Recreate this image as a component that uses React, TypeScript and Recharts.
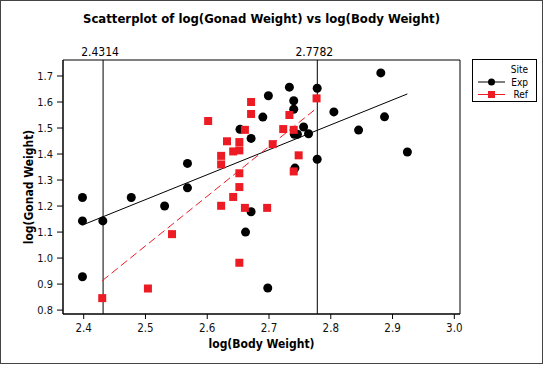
import React from "react";
import { ScatterChart, Scatter, XAxis, YAxis, ReferenceLine, ReferenceArea } from "recharts";

// log(Body Weight) / log(Gonad Weight), site "Exp"
const expBody = [
  2.398, 2.398, 2.398, 2.431, 2.477, 2.531, 2.568, 2.568, 2.653, 2.662,
  2.671, 2.671, 2.69, 2.698, 2.699, 2.733, 2.74, 2.74, 2.741, 2.742,
  2.746, 2.756, 2.764, 2.778, 2.778, 2.805, 2.845, 2.881, 2.887, 2.924,
];
const expGonad = [
  1.233, 1.143, 0.928, 1.143, 1.233, 1.2, 1.364, 1.27, 1.495, 1.1,
  1.46, 1.178, 1.542, 0.885, 1.624, 1.657, 1.605, 1.572, 1.476, 1.346,
  1.476, 1.504, 1.478, 1.653, 1.38, 1.562, 1.492, 1.712, 1.543, 1.408,
];

// site "Ref"
const refBody = [
  2.43, 2.504, 2.543, 2.6015, 2.6225, 2.6225, 2.6225, 2.632, 2.642, 2.642,
  2.652, 2.652, 2.652, 2.652, 2.652, 2.661, 2.661, 2.671, 2.671, 2.697,
  2.706, 2.723, 2.733, 2.74, 2.74, 2.748, 2.777,
];
const refGonad = [
  0.846, 0.883, 1.092, 1.527, 1.393, 1.36, 1.201, 1.449, 1.41, 1.235,
  1.446, 1.414, 1.326, 1.273, 0.982, 1.493, 1.193, 1.6, 1.554, 1.193,
  1.438, 1.496, 1.55, 1.493, 1.333, 1.395, 1.614,
];

// fitted lines (end points)
const expFitBody = [2.398, 2.924];
const expFitGonad = [1.127, 1.631];
const refFitBody = [2.43, 2.777];
const refFitGonad = [0.913, 1.576];

const refLines = [2.4314, 2.7782];
const xTicks = [2.4, 2.5, 2.6, 2.7, 2.8, 2.9, 3.0];
const yTicks = [0.8, 0.9, 1.0, 1.1, 1.2, 1.3, 1.4, 1.5, 1.6, 1.7];
const xDomain = [2.3665, 3.0092];
const yDomain = [0.785, 1.7615];

const FONT = "'DejaVu Sans Condensed', 'DejaVu Sans', sans-serif";
const RED = "#ED1C24";

const zip = (xs: number[], ys: number[]) => xs.map((x, i) => ({ x, y: ys[i] }));

const expData = zip(expBody, expGonad);
const refData = zip(refBody, refGonad);
const expFit = zip(expFitBody, expFitGonad);
const refFit = zip(refFitBody, refFitGonad);

const Circle = (p: any) => <circle cx={p.cx} cy={p.cy} r={4.5} fill="#000" />;
const Square = (p: any) => <rect x={p.cx - 4} y={p.cy - 4} width={8} height={8} fill={RED} />;
const NoShape = () => <g />;

export default function App() {
  return (
    <div style={{ position: "fixed", left: 0, top: 0, width: 547, height: 365, background: "#fff", fontFamily: FONT }}>
      <div style={{ position: "absolute", left: 0, top: 0, width: 543, height: 364, border: "1px solid #444", boxSizing: "border-box" }} />
      <div
        style={{
          position: "absolute", left: 63, top: 11, width: 397, textAlign: "center",
          fontWeight: "bold", fontSize: 13, color: "#000",
        }}
      >
        Scatterplot of log(Gonad Weight) vs log(Body Weight)
      </div>
      <ScatterChart width={547} height={365} margin={{ top: 60, right: 87, bottom: 11, left: 0 }}>
        <XAxis
          type="number"
          dataKey="x"
          domain={xDomain}
          ticks={xTicks}
          allowDataOverflow
          tickFormatter={(v) => v.toFixed(1)}
          tick={{ fill: "#111", fontSize: 11.5, fontFamily: FONT }}
          tickSize={5}
          tickMargin={5}
          height={40}
          stroke="#000"
          label={{ value: "log(Body Weight)", position: "insideBottom", offset: 6, fill: "#000", fontSize: 12, fontWeight: "bold", fontFamily: FONT }}
        />
        <YAxis
          type="number"
          dataKey="y"
          domain={yDomain}
          ticks={yTicks}
          allowDataOverflow
          tickFormatter={(v) => v.toFixed(1)}
          tick={{ fill: "#111", fontSize: 11, fontFamily: FONT }}
          tickSize={6}
          tickMargin={4}
          width={63}
          stroke="#000"
          label={{
            value: "log(Gonad Weight)", angle: -90, position: "insideLeft", offset: 29,
            fill: "#000", fontSize: 12, fontWeight: "bold", fontFamily: FONT,
            style: { textAnchor: "middle" },
          }}
        />
        <ReferenceArea x1={xDomain[0]} x2={xDomain[1]} y1={yDomain[0]} y2={yDomain[1]} fill="none" stroke="#000" fillOpacity={0} />
        {refLines.map((v) => (
          <ReferenceLine
            key={v}
            x={v}
            stroke="#000"
            label={{ value: String(v), position: "top", offset: 4, dx: -3, fill: "#000", fontSize: 12, fontFamily: FONT }}
          />
        ))}
        <Scatter data={expFit} line={{ stroke: "#000", strokeWidth: 1 }} shape={NoShape} isAnimationActive={false} />
        <Scatter data={refFit} line={{ stroke: RED, strokeWidth: 1, strokeDasharray: "8 4" }} shape={NoShape} isAnimationActive={false} />
        <Scatter data={expData} shape={Circle} isAnimationActive={false} />
        <Scatter data={refData} shape={Square} isAnimationActive={false} />
      </ScatterChart>
      <div
        style={{
          position: "absolute", left: 472, top: 59, width: 65, height: 43,
          border: "1px solid #000", boxSizing: "border-box", background: "#fff",
        }}
      >
        <svg width={63} height={41} style={{ display: "block" }}>
          <text x={55} y={13} textAnchor="end" fontSize={10} fontFamily={FONT} fill="#000">Site</text>
          <line x1={5} x2={32} y1={22} y2={22} stroke="#000" />
          <circle cx={18.5} cy={22} r={3.5} fill="#000" />
          <text x={55} y={25.5} textAnchor="end" fontSize={10} fontFamily={FONT} fill="#000">Exp</text>
          <line x1={5} x2={32} y1={34.5} y2={34.5} stroke={RED} />
          <rect x={15} y={31} width={7} height={7} fill={RED} />
          <text x={55} y={38} textAnchor="end" fontSize={10} fontFamily={FONT} fill="#000">Ref</text>
        </svg>
      </div>
    </div>
  );
}
